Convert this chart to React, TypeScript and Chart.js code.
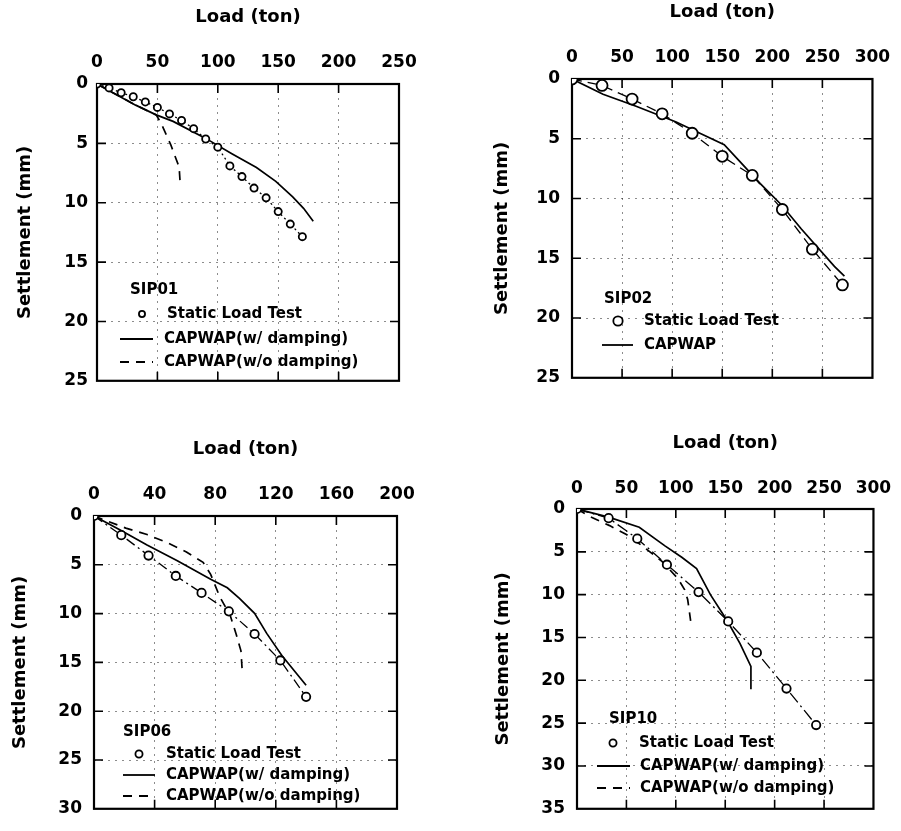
import React, { useEffect, useRef } from "react";
import { Chart, registerables } from "chart.js";
Chart.register(...registerables);

// ---------- DATA ----------
// SIP01
const sip01StaticLoad = [0, 10, 20, 30, 40, 50, 60, 70, 80, 90, 100, 110, 120, 130, 140, 150, 160, 170];
const sip01StaticSettle = [0, 0.33, 0.74, 1.07, 1.51, 1.97, 2.52, 3.07, 3.76, 4.63, 5.32, 6.9, 7.8, 8.77, 9.59, 10.75, 11.8, 12.86];
const sip01DampLoad = [0, 32, 49, 63, 90, 112, 132, 148, 162, 171, 179];
const sip01DampSettle = [0, 1.78, 2.6, 3.15, 4.58, 5.89, 7.04, 8.2, 9.51, 10.47, 11.57];
const sip01NoDampLoad = [0, 32, 49, 53, 61, 68, 69];
const sip01NoDampSettle = [0, 1.78, 2.6, 3.3, 5.1, 7.0, 8.6];

// SIP02
const sip02StaticLoad = [0, 30, 60, 90, 120, 150, 180, 210, 240, 270];
const sip02StaticSettle = [0, 0.54, 1.68, 2.91, 4.54, 6.47, 8.07, 10.92, 14.24, 17.23];
const sip02CapLoad = [0, 31, 64, 104, 124, 152, 167, 188, 209, 229, 262, 272];
const sip02CapSettle = [0, 1.28, 2.28, 3.59, 4.4, 5.49, 6.85, 8.75, 10.52, 12.55, 15.68, 16.5];

// SIP06
const sip06StaticLoad = [0, 18, 36, 54, 71, 89, 106, 123, 140];
const sip06StaticSettle = [0, 1.96, 4.05, 6.14, 7.88, 9.77, 12.09, 14.8, 18.53];
const sip06DampLoad = [0, 17, 35, 55, 77, 88, 96, 106, 114, 124, 140];
const sip06DampSettle = [0, 1.4, 2.97, 4.58, 6.47, 7.35, 8.43, 9.97, 12.03, 14.3, 17.35];
const sip06NoDampLoad = [0, 21, 35, 48, 61, 72, 77, 83, 90, 94, 97, 98];
const sip06NoDampSettle = [0, 1.24, 1.9, 2.71, 3.69, 4.74, 5.98, 8.27, 10.23, 12.19, 13.82, 16.27];

// SIP10
const sip10StaticLoad = [0, 32, 61, 91, 123, 153, 182, 212, 242];
const sip10StaticSettle = [0, 1.07, 3.46, 6.5, 9.7, 13.12, 16.77, 20.96, 25.22];
const sip10DampLoad = [0, 32, 63, 89, 106, 121, 135, 152, 165, 176, 176];
const sip10DampSettle = [0, 0.95, 2.13, 4.3, 5.63, 6.96, 10, 13.05, 15.71, 18.37, 21.03];
const sip10NoDampLoad = [0, 13, 33, 50, 66, 86, 102, 109, 112, 115];
const sip10NoDampSettle = [0, 0.87, 1.94, 2.97, 4.3, 6.12, 8.1, 9.43, 10.57, 13.05];

const X_TITLE = "Load (ton)";
const Y_TITLE = "Settlement (mm)";
const LBL_STATIC = "Static Load Test";
const LBL_DAMP = "CAPWAP(w/ damping)";
const LBL_NODAMP = "CAPWAP(w/o damping)";
const LBL_CAP = "CAPWAP";

// ---------- STYLE / LAYOUT ----------
const FONT = "'DejaVu Sans', sans-serif";
const TICK_SIZE = 17;
const TITLE_SIZE = 18;
const LEGEND_SIZE = 15;
const NODAMP_DASH = [9, 7];

type Series = { label: string; kind: "static" | "line" | "dash"; load: number[]; settle: number[]; dash?: number[] };
type LegendRow = { kind: "static" | "line" | "dash"; text: string; y: number; mx: number; x0?: number; x1?: number; tx: number };
type Panel = {
  name: string;
  left: number; top: number; width: number; height: number;
  plot: { l: number; t: number; r: number; b: number };
  xMax: number; xStep: number; yMax: number;
  xTitleY: number; yTitleX: number; xTickGap: number; yTickGap: number;
  radius: number;
  series: Series[];
  legend: { sx: number; sy: number; rows: LegendRow[] };
};

const PANELS: Panel[] = [
  {
    name: "SIP01", left: 0, top: 0, width: 450, height: 400,
    plot: { l: 97, t: 84, r: 399, b: 388 },
    xMax: 250, xStep: 50, yMax: 25,
    xTitleY: 17, yTitleX: 25, xTickGap: 21, yTickGap: 9, radius: 3.6,
    series: [
      { label: LBL_STATIC, kind: "static", load: sip01StaticLoad, settle: sip01StaticSettle, dash: [2, 3] },
      { label: LBL_DAMP, kind: "line", load: sip01DampLoad, settle: sip01DampSettle },
      { label: LBL_NODAMP, kind: "dash", load: sip01NoDampLoad, settle: sip01NoDampSettle },
    ],
    legend: {
      sx: 130, sy: 290,
      rows: [
        { kind: "static", text: LBL_STATIC, y: 314, mx: 142, tx: 167 },
        { kind: "line", text: LBL_DAMP, y: 339, mx: 0, x0: 120, x1: 153, tx: 164 },
        { kind: "dash", text: LBL_NODAMP, y: 362, mx: 0, x0: 120, x1: 153, tx: 164 },
      ],
    },
  },
  {
    name: "SIP02", left: 450, top: 0, width: 451, height: 400,
    plot: { l: 122, t: 79, r: 425, b: 386 },
    xMax: 300, xStep: 50, yMax: 25,
    xTitleY: 12, yTitleX: 52, xTickGap: 21, yTickGap: 12, radius: 5.5,
    series: [
      { label: LBL_STATIC, kind: "static", load: sip02StaticLoad, settle: sip02StaticSettle, dash: [10, 6] },
      { label: LBL_CAP, kind: "line", load: sip02CapLoad, settle: sip02CapSettle },
    ],
    legend: {
      sx: 154, sy: 299,
      rows: [
        { kind: "static", text: LBL_STATIC, y: 321, mx: 168, tx: 194 },
        { kind: "line", text: LBL_CAP, y: 345, mx: 0, x0: 152, x1: 183, tx: 194 },
      ],
    },
  },
  {
    name: "SIP06", left: 0, top: 400, width: 450, height: 431,
    plot: { l: 94, t: 116, r: 397, b: 422 },
    xMax: 200, xStep: 40, yMax: 30,
    xTitleY: 49, yTitleX: 20, xTickGap: 21, yTickGap: 12, radius: 4.2,
    series: [
      { label: LBL_STATIC, kind: "static", load: sip06StaticLoad, settle: sip06StaticSettle, dash: [10, 4, 2, 4] },
      { label: LBL_DAMP, kind: "line", load: sip06DampLoad, settle: sip06DampSettle },
      { label: LBL_NODAMP, kind: "dash", load: sip06NoDampLoad, settle: sip06NoDampSettle },
    ],
    legend: {
      sx: 123, sy: 332,
      rows: [
        { kind: "static", text: LBL_STATIC, y: 354, mx: 139, tx: 166 },
        { kind: "line", text: LBL_DAMP, y: 375, mx: 0, x0: 123, x1: 155, tx: 166 },
        { kind: "dash", text: LBL_NODAMP, y: 396, mx: 0, x0: 123, x1: 155, tx: 166 },
      ],
    },
  },
  {
    name: "SIP10", left: 450, top: 400, width: 451, height: 431,
    plot: { l: 127, t: 109, r: 429, b: 416 },
    xMax: 300, xStep: 50, yMax: 35,
    xTitleY: 43, yTitleX: 53, xTickGap: 20, yTickGap: 12, radius: 4.2,
    series: [
      { label: LBL_STATIC, kind: "static", load: sip10StaticLoad, settle: sip10StaticSettle, dash: [12, 4, 2, 4] },
      { label: LBL_DAMP, kind: "line", load: sip10DampLoad, settle: sip10DampSettle },
      { label: LBL_NODAMP, kind: "dash", load: sip10NoDampLoad, settle: sip10NoDampSettle },
    ],
    legend: {
      sx: 159, sy: 319,
      rows: [
        { kind: "static", text: LBL_STATIC, y: 343, mx: 163, tx: 189 },
        { kind: "line", text: LBL_DAMP, y: 366, mx: 0, x0: 147, x1: 180, tx: 190 },
        { kind: "dash", text: LBL_NODAMP, y: 388, mx: 0, x0: 147, x1: 180, tx: 190 },
      ],
    },
  },
];

const framePlugin = {
  id: "frameTicks",
  beforeDatasetsDraw(chart: any) {
    const { ctx, chartArea: a } = chart;
    const xs = chart.scales.x;
    const ys = chart.scales.y;
    ctx.save();
    ctx.strokeStyle = "#000";
    ctx.lineWidth = 1.6;
    ctx.setLineDash([]);
    const L = 9;
    xs.ticks.forEach((t: any) => {
      if (t.value <= xs.min || t.value >= xs.max) return;
      const px = xs.getPixelForValue(t.value);
      ctx.beginPath();
      ctx.moveTo(px, a.top); ctx.lineTo(px, a.top + L);
      ctx.moveTo(px, a.bottom); ctx.lineTo(px, a.bottom - L);
      ctx.stroke();
    });
    ys.ticks.forEach((t: any) => {
      if (t.value <= ys.min || t.value >= ys.max) return;
      const py = ys.getPixelForValue(t.value);
      ctx.beginPath();
      ctx.moveTo(a.left, py); ctx.lineTo(a.left + L, py);
      ctx.moveTo(a.right, py); ctx.lineTo(a.right - L, py);
      ctx.stroke();
    });
    ctx.lineWidth = 2.2;
    ctx.strokeRect(a.left, a.top, a.right - a.left, a.bottom - a.top);
    ctx.restore();
  },
  afterDraw(chart: any) {
    const p: Panel = chart.options.plugins.frameTicks.panel;
    const { ctx } = chart;
    ctx.save();
    ctx.fillStyle = "#000";
    ctx.strokeStyle = "#000";
    ctx.font = `bold ${LEGEND_SIZE}px ${FONT}`;
    ctx.textBaseline = "middle";
    ctx.textAlign = "left";
    ctx.fillText(p.name, p.legend.sx, p.legend.sy);
    p.legend.rows.forEach((r) => {
      if (r.kind === "static") {
        ctx.beginPath();
        ctx.lineWidth = 1.8;
        ctx.setLineDash([]);
        ctx.arc(r.mx, r.y, p.radius * 0.85, 0, Math.PI * 2);
        ctx.fillStyle = "#fff";
        ctx.fill();
        ctx.stroke();
        ctx.fillStyle = "#000";
      } else {
        ctx.beginPath();
        ctx.lineWidth = 1.8;
        ctx.setLineDash(r.kind === "dash" ? NODAMP_DASH : []);
        ctx.moveTo(r.x0!, r.y);
        ctx.lineTo(r.x1!, r.y);
        ctx.stroke();
        ctx.setLineDash([]);
      }
      ctx.fillText(r.text, r.tx, r.y);
    });
    ctx.restore();
  },
};

function buildConfig(p: Panel): any {
  const datasets = p.series.map((s) => {
    const data = s.load.map((x, i) => ({ x, y: s.settle[i] }));
    if (s.kind === "static") {
      return {
        label: s.label, data, showLine: true,
        borderColor: "#000", borderWidth: 1.3, borderDash: s.dash,
        pointRadius: p.radius, pointBorderWidth: 1.8,
        pointBackgroundColor: "#fff", pointBorderColor: "#000",
      };
    }
    return {
      label: s.label, data, showLine: true,
      borderColor: "#000", borderWidth: 1.7,
      borderDash: s.kind === "dash" ? NODAMP_DASH : [],
      pointRadius: 0,
    };
  });
  const tickFont = { family: FONT, size: TICK_SIZE, weight: "bold" as const, lineHeight: 1.2 };
  const titleFont = { family: FONT, size: TITLE_SIZE, weight: "bold" as const, lineHeight: 1.2 };
  const tickHalf = TICK_SIZE * 1.2 / 2;
  const titleHalf = TITLE_SIZE * 1.2 / 2;
  const gridColor = "rgba(0,0,0,0.45)";
  return {
    type: "scatter",
    data: { datasets },
    options: {
      animation: false,
      responsive: false,
      events: [],
      layout: { padding: { left: 0, top: 0, right: p.width - p.plot.r, bottom: p.height - p.plot.b } },
      plugins: {
        legend: { display: false },
        tooltip: { enabled: false },
        frameTicks: { panel: p },
      },
      scales: {
        x: {
          type: "linear", position: "top", min: 0, max: p.xMax,
          ticks: { stepSize: p.xStep, color: "#000", font: tickFont, padding: p.xTickGap - tickHalf },
          grid: { color: gridColor, lineWidth: 1, drawTicks: false },
          border: { display: false, dash: [2, 5] },
          title: { display: true, text: X_TITLE, color: "#000", font: titleFont, padding: { top: p.xTitleY - titleHalf, bottom: 0 } },
          afterFit: (sc: any) => { sc.height = p.plot.t; },
        },
        y: {
          type: "linear", position: "left", min: 0, max: p.yMax, reverse: true,
          ticks: { stepSize: 5, color: "#000", font: tickFont, padding: p.yTickGap },
          grid: { color: gridColor, lineWidth: 1, drawTicks: false },
          border: { display: false, dash: [2, 5] },
          title: { display: true, text: Y_TITLE, color: "#000", font: titleFont, padding: { top: p.yTitleX - titleHalf, bottom: 0 } },
          afterFit: (sc: any) => { sc.width = p.plot.l; },
        },
      },
    },
    plugins: [framePlugin],
  };
}

function PanelChart({ p }: { p: Panel }) {
  const ref = useRef<HTMLCanvasElement | null>(null);
  useEffect(() => {
    if (!ref.current) return;
    const chart = new Chart(ref.current, buildConfig(p));
    return () => chart.destroy();
  }, [p]);
  return (
    <div style={{ position: "absolute", left: p.left, top: p.top, width: p.width, height: p.height }}>
      <canvas ref={ref} width={p.width} height={p.height} style={{ width: p.width, height: p.height, display: "block" }} />
    </div>
  );
}

export default function App() {
  return (
    <div style={{ position: "absolute", left: 0, top: 0, width: 901, height: 831, background: "#fff" }}>
      {PANELS.map((p) => (
        <PanelChart key={p.name} p={p} />
      ))}
    </div>
  );
}
